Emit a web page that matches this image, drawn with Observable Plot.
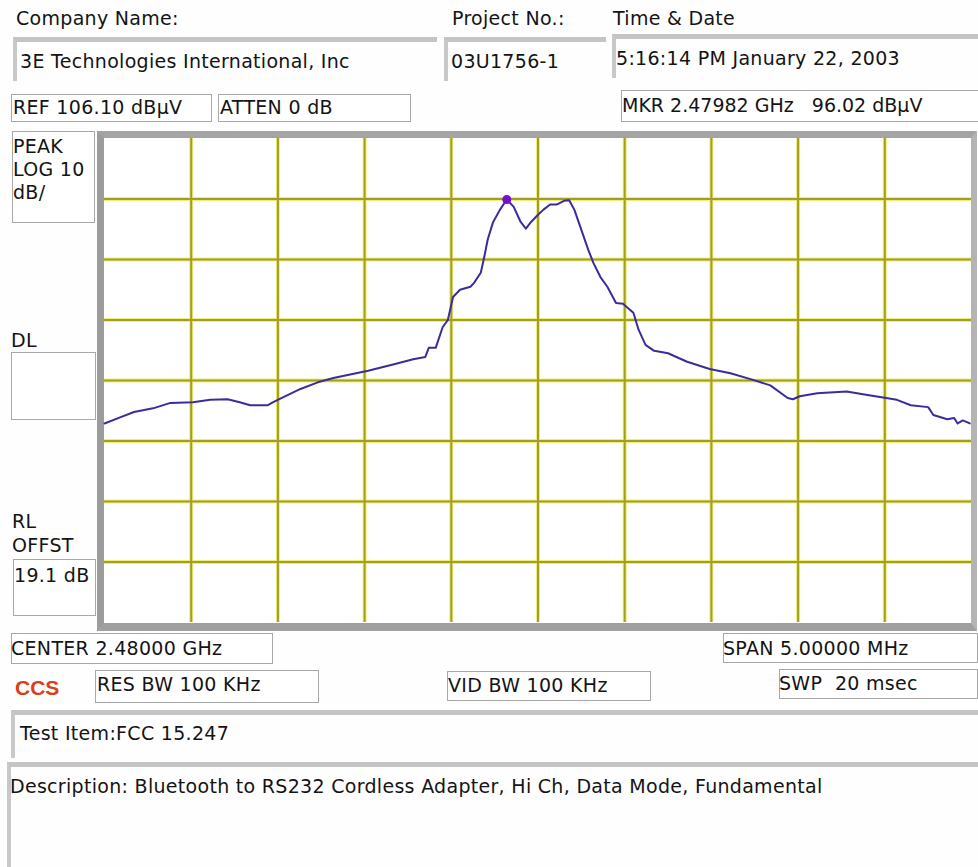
<!DOCTYPE html>
<html>
<head>
<meta charset="utf-8">
<script src="https://cdn.jsdelivr.net/npm/d3@7"></script>
<script src="https://cdn.jsdelivr.net/npm/@observablehq/plot@0.6"></script>
<style>
  html, body { margin: 0; padding: 0; background: #fefefe; }
  #page { position: relative; width: 978px; height: 867px; overflow: hidden; font-family: "DejaVu Sans", Verdana, sans-serif; font-size: 19px; letter-spacing: 0.3px; color: #141414; background: #fefefe; }
  .t { position: absolute; white-space: nowrap; line-height: 1; }
  .box { position: absolute; border: 1.5px solid #a8a8a8; box-sizing: border-box; background: #fff; }
  .sunk { position: absolute; box-sizing: border-box; border-top: 5px solid #c4c4c4; border-left: 4px solid #c8c8c8; background: #fefefe; }
  #frame { position: absolute; left: 97px; top: 131px; width: 880px; height: 500px; box-sizing: border-box;
           border-left: 7px solid #9c9c9c; border-top: 7px solid #a4a4a4; border-right: 6px solid #b4b4b4; border-bottom: 8px solid #a0a0a0; background: #fff; }
  #chart { position: absolute; left: 104px; top: 138px; }
</style>
</head>
<body>
<div id="page">
  <!-- header -->
  <div class="t" style="left:16px;top:9px;">Company Name:</div>
  <div class="sunk" style="left:13px;top:37px;width:424px;height:44px;"></div>
  <div class="t" style="left:20px;top:52px;">3E Technologies International, Inc</div>

  <div class="t" style="left:452px;top:9px;">Project No.:</div>
  <div class="sunk" style="left:444px;top:37px;width:162px;height:44px;"></div>
  <div class="t" style="left:451px;top:52px;">03U1756-1</div>

  <div class="t" style="left:613px;top:9px;">Time &amp; Date</div>
  <div class="sunk" style="left:612px;top:34px;width:366px;height:44px;"></div>
  <div class="t" style="left:616px;top:49px;">5:16:14 PM January 22, 2003</div>

  <div class="box" style="left:11px;top:94px;width:201px;height:28px;"></div>
  <div class="t" style="left:13px;top:98px;">REF 106.10 dBµV</div>
  <div class="box" style="left:218px;top:94px;width:193px;height:28px;"></div>
  <div class="t" style="left:220px;top:98px;">ATTEN 0 dB</div>
  <div class="box" style="left:621px;top:90px;width:360px;height:32px;"></div>
  <div class="t" style="left:622px;top:96px;letter-spacing:0;">MKR 2.47982 GHz&nbsp;&nbsp; 96.02 dBµV</div>

  <!-- left panel -->
  <div class="box" style="left:12px;top:131px;width:83px;height:92px;"></div>
  <div class="t" style="left:13px;top:135px;line-height:23px;white-space:normal;width:82px;">PEAK<br>LOG 10<br>dB/</div>
  <div class="t" style="left:11px;top:331px;">DL</div>
  <div class="box" style="left:11px;top:352px;width:85px;height:68px;"></div>
  <div class="t" style="left:12px;top:509px;line-height:24px;">RL<br>OFFST</div>
  <div class="box" style="left:13px;top:559px;width:83px;height:57px;"></div>
  <div class="t" style="left:14px;top:566px;">19.1 dB</div>

  <!-- graticule frame -->
  <div id="frame"></div>
  <div id="chart"></div>

  <!-- bottom fields -->
  <div class="box" style="left:11px;top:633px;width:262px;height:31px;"></div>
  <div class="t" style="left:11px;top:639px;">CENTER 2.48000 GHz</div>
  <div class="box" style="left:723px;top:633px;width:255px;height:30px;"></div>
  <div class="t" style="left:723px;top:639px;">SPAN 5.00000 MHz</div>

  <div class="t" style="left:15px;top:677px;color:#d8401c;font-weight:bold;font-family:'Liberation Sans',Arial,sans-serif;font-size:21px;letter-spacing:0;">CCS</div>
  <div class="box" style="left:95px;top:670px;width:224px;height:33px;"></div>
  <div class="t" style="left:97px;top:675px;">RES BW 100 KHz</div>
  <div class="box" style="left:447px;top:671px;width:204px;height:30px;"></div>
  <div class="t" style="left:448px;top:676px;">VID BW 100 KHz</div>
  <div class="box" style="left:779px;top:669px;width:199px;height:30px;"></div>
  <div class="t" style="left:779px;top:674px;">SWP&nbsp; 20 msec</div>

  <div class="sunk" style="left:11px;top:710px;width:968px;height:48px;"></div>
  <div class="t" style="left:20px;top:724px;">Test Item:FCC 15.247</div>

  <div class="sunk" style="left:7px;top:762px;width:972px;height:110px;"></div>
  <div class="t" style="left:10px;top:777px;">Description: Bluetooth to RS232 Cordless Adapter, Hi Ch, Data Mode, Fundamental</div>
</div>

<script>
// ---- data (frequency in MHz, level in dBµV) ----
const freqMHz = [
  2477.50, 2477.59, 2477.67, 2477.78, 2477.88, 2478.01, 2478.11, 2478.21, 2478.28, 2478.34,
  2478.44, 2478.47, 2478.52, 2478.63, 2478.73, 2478.82, 2479.02, 2479.17, 2479.28, 2479.35,
  2479.37, 2479.41, 2479.45, 2479.48, 2479.51, 2479.55, 2479.61, 2479.63, 2479.67, 2479.69,
  2479.71, 2479.74, 2479.78, 2479.82, 2479.86, 2479.90, 2479.93, 2479.96, 2480.00, 2480.03,
  2480.07, 2480.11, 2480.15, 2480.18, 2480.21, 2480.25, 2480.29, 2480.32, 2480.36, 2480.40,
  2480.45, 2480.49, 2480.55, 2480.58, 2480.62, 2480.67, 2480.75, 2480.86, 2480.99, 2481.11,
  2481.24, 2481.34, 2481.44, 2481.47, 2481.51, 2481.61, 2481.78, 2481.90, 2481.99, 2482.07,
  2482.15, 2482.25, 2482.28, 2482.36, 2482.40, 2482.42, 2482.45, 2482.49
];
const levelDb = [
  59.0, 60.0, 60.9, 61.5, 62.4, 62.5, 62.9, 63.0, 62.5, 62.0,
  62.0, 62.5, 63.2, 64.7, 65.8, 66.5, 67.7, 68.8, 69.6, 70.0,
  71.5, 71.5, 74.9, 76.1, 79.9, 81.1, 81.6, 82.2, 83.9, 86.5,
  89.4, 92.2, 94.3, 96.02, 94.8, 92.3, 91.2, 92.3, 93.5, 94.3,
  95.2, 95.2, 95.8, 95.9, 94.3, 91.0, 87.7, 85.5, 83.2, 81.6,
  78.9, 78.8, 77.3, 74.5, 72.0, 71.0, 70.6, 69.2, 68.0, 67.3,
  66.2, 65.3, 63.2, 63.0, 63.5, 64.0, 64.3, 63.7, 63.3, 62.9,
  62.0, 61.7, 60.4, 59.7, 59.9, 59.0, 59.5, 59.0
];
const markerFreqMHz = [2479.82];
const markerDb = [96.02];
// graticule: center 2480 MHz, span 5 MHz (0.5 MHz/div); ref 106.1 dBµV, 10 dB/div
const gridFreqMHz = [2478.0, 2478.5, 2479.0, 2479.5, 2480.0, 2480.5, 2481.0, 2481.5, 2482.0];
const gridDb = [96.1, 86.1, 76.1, 66.1, 56.1, 46.1, 36.1];
const xDomain = [2477.5, 2482.5];
const yDomain = [26.1, 106.1];

const trace = freqMHz.map((f, i) => ({f, db: levelDb[i]}));
const marker = markerFreqMHz.map((f, i) => ({f, db: markerDb[i]}));

const chart = Plot.plot({
  width: 867,
  height: 484,
  margin: 0,
  style: {background: "transparent", overflow: "visible"},
  x: {domain: xDomain, axis: null},
  y: {domain: yDomain, axis: null},
  marks: [
    Plot.ruleX(gridFreqMHz, {stroke: "#eeee80", strokeWidth: 4}),
    Plot.ruleY(gridDb, {stroke: "#eeee80", strokeWidth: 4}),
    Plot.ruleX(gridFreqMHz, {stroke: "#a29e1e", strokeWidth: 2}),
    Plot.ruleY(gridDb, {stroke: "#a29e1e", strokeWidth: 2}),
    Plot.line(trace, {x: "f", y: "db", stroke: "#3b2c9c", strokeWidth: 2, curve: "linear"}),
    Plot.dot(marker, {x: "f", y: "db", r: 4.5, fill: "#7a0ccf", stroke: "none"})
  ]
});
document.getElementById("chart").appendChild(chart);
</script>
</body>
</html>
